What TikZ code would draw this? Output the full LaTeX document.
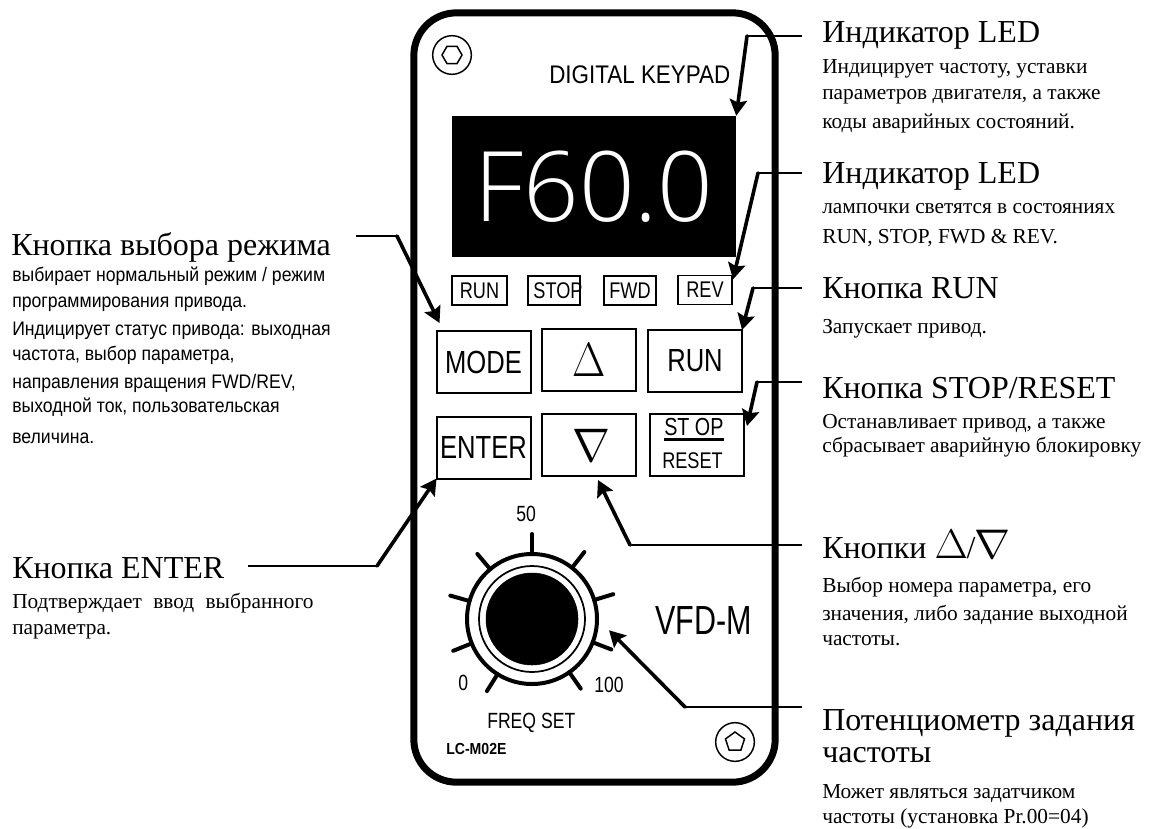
\documentclass[tikz,border=0pt]{standalone}
\usepackage{fontspec}
\setmainfont{Liberation Serif}
\setsansfont{Liberation Sans}
\newfontfamily\panelfont[FakeStretch=0.88]{Liberation Sans}
\newfontfamily\keyfont[FakeStretch=0.8]{Liberation Sans}
\newfontfamily\modelfont[FakeStretch=0.75]{Liberation Sans}
\newfontfamily\notefont[FakeStretch=0.9]{Liberation Sans}
\newfontfamily\displayfont{Open Sans Light}
\usetikzlibrary{arrows.meta,shapes.geometric,positioning}

\begin{document}
\begin{tikzpicture}
        [
            x=0.75pt, y=-0.75pt,
            titletext/.style={anchor=base west, inner sep=0pt, font=\fontsize{24}{26}\selectfont},
            notetext/.style={anchor=base west, inner sep=0pt, align=left, font=\fontsize{16}{19.5}\selectfont},
            leftnote/.style={anchor=base west, inner sep=0pt, align=left, font=\notefont\fontsize{14.7}{19}\selectfont},
            paneltext/.style={anchor=base west, inner sep=0pt, font=\keyfont\fontsize{#1}{#1}\selectfont},
            keybox/.style={draw, line width=1.5pt, inner sep=0pt, outer sep=0pt, minimum width=70.5pt, minimum height=46.5pt, font=\keyfont\fontsize{24}{24}\selectfont},
            ledbox/.style={draw, line width=1.2pt, inner sep=0pt, outer sep=0pt, minimum height=22pt, font=\keyfont\fontsize{17}{17}\selectfont},
            screw/.style={circle, draw, line width=1.1pt, inner sep=0pt, minimum size=29pt},
            bolt/.style={regular polygon, regular polygon sides=#1, draw, line width=1.1pt, inner sep=0pt, minimum size=15pt},
            ring/.style={circle, draw, inner sep=0pt, outer sep=0pt},
            dialtick/.style={line width=3pt, line cap=round},
            lead/.style={line width=1.5pt},
            leadarrow/.style={line width=2.7pt, line cap=round, -{Stealth[length=12pt,width=13pt,inset=2pt]}},
        ]
            \useasboundingbox (0,0) rectangle (1151,828);

            % panel
            \node[draw, line width=5.25pt, rounded corners=32pt, inner sep=0pt, minimum width=271pt, minimum height=577pt] (panel) at (594.5,397.5) {};
            \node[screw] (screwa) at (452,55) {};
            \node[bolt=6] (bolta) at (452,55) {};
            \node[screw] (screwb) at (735,742) {};
            \node[bolt=5] (boltb) at (735,742) {};
            \node[anchor=base west, inner sep=0pt, font=\panelfont\fontsize{19.1}{20}\selectfont] (keypad) at (549,83) {DIGITAL KEYPAD};

            \node[fill=black, text=white, inner sep=0pt, minimum width=213pt, minimum height=105.75pt, font=\displayfont\fontsize{73}{73}\selectfont] (display) at (594,186.5) {F60.0};

            \node[ledbox, minimum width=41pt] (ledrun) at (479.5,290.5) {RUN};
            \node[ledbox, minimum width=39pt] (ledstop) at (554,290.5) {\makebox[0pt]{\hspace{6pt}STOP}};
            \node[ledbox, minimum width=39pt] (ledfwd) at (630,290.5) {FWD};
            \node[ledbox, minimum width=40.5pt] (ledrev) at (705,290) {REV};

            \node[keybox] (keymode) at (483.5,362) {MODE\hspace{5pt}};
            \node[keybox] (keyup) at (589,360) {\scalebox{1.3}[1.45]{$\Delta$}};
            \node[keybox] (keyrun) at (695,361) {RUN\hspace{6pt}};
            \node[keybox] (keyenter) at (483.5,447.5) {ENTER};
            \node[keybox] (keydown) at (589,445) {\hspace{4pt}\scalebox{1.37}[1.42]{$\nabla$}};
            \node[keybox] (keystop) at (697,445) {};
            \node[paneltext=18.5] (stoptop) at (664,435) {ST OP};
            \node[paneltext=17] (stopbot) at (662,468) {RESET};
            \draw[line width=2pt] ([yshift=-3pt]stoptop.south west) -- ([yshift=-3pt]stoptop.south east);

            % dial
            \node[ring, line width=3pt, minimum size=97.5pt] (knob) at (532,619) {};
            \node[ring, line width=1.3pt, minimum size=79.5pt] (knobring) at (532,619) {};
            \node[ring, fill=black, minimum size=69pt] (knobcap) at (532,619) {};
            \foreach \a in {238,202,164,130,90,52,17,-21,-55}
                \draw[dialtick] (knob.\a) -- ++(-\a:20);
            \node[paneltext=16.5] (dialmid) at (516,521) {50};
            \node[paneltext=16.5] (dialmin) at (458,690) {0};
            \node[paneltext=16.5] (dialmax) at (594,692) {100};
            \node[paneltext=16.5] (freqset) at (487,728) {FREQ SET};
            \node[anchor=base west, inner sep=0pt, font=\modelfont\fontsize{30.5}{31}\selectfont] (model) at (655,634) {VFD-M};
            \node[anchor=base west, inner sep=0pt, font=\panelfont\bfseries\fontsize{12}{12}\selectfont] (modelcode) at (446,754) {LC-M02E};

            % right column
            \node[titletext] (titleled) at (822,42) {Индикатор LED};
            \node[notetext] (noteled) at (822,128) {Индицирует частоту, уставки\\параметров двигателя, а также\\[2pt]коды аварийных состояний.};
            \node[titletext] (titlelamp) at (822,183) {Индикатор LED};
            \node[notetext] (notelamp) at (822,243) {лампочки светятся в состояниях\\[3pt]RUN, STOP, FWD \& REV.};
            \node[titletext] (titlerun) at (822,298) {Кнопка RUN};
            \node[notetext] (noterun) at (822,333) {Запускает привод.};
            \node[titletext] (titlestop) at (822,398) {Кнопка STOP/RESET};
            \node[notetext] (notestop) at (822,452) {Останавливает привод, а также\\[-1.5pt]сбрасывает аварийную блокировку};
            \node[titletext] (titlearrows) at (822,558) {Кнопки \scalebox{1.3}[1.25]{$\Delta$}\kern-1pt/\kern-1pt\scalebox{1.3}[1.25]{$\nabla$}};
            \node[notetext] (notearrows) at (822,645) {Выбор номера параметра,  его\\[1.5pt]значения, либо задание выходной\\[-.75pt]частоты.};
            \node[titletext] (titlepot) at (822,730) {Потенциометр задания};
            \node[titletext] (titlepotb) at (822,762) {частоты};
            \node[notetext] (notepot) at (822,823) {Может являться задатчиком\\[-.75pt]частоты (установка Pr.00=04)};

            % left column
            \node[titletext] (titlemode) at (11,255) {Кнопка выбора режима};
            \node[leftnote] (notemode) at (12,443) {выбирает нормальный режим / режим\\программирования привода.\\[2pt]Индицирует статус привода:  выходная\\частота, выбор параметра,\\[2pt]направления вращения FWD/REV,\\[-1pt]выходной ток, пользовательская\\[4pt]величина.};
            \node[titletext] (titleenter) at (12,578) {Кнопка ENTER};
            \node[notetext] (noteenter) at (12,634) {Подтверждает\hspace{8.6pt}ввод\hspace{8.6pt}выбранного\\параметра.};

            % leads
            \coordinate (bendled) at (747,36);
            \coordinate (bendlamp) at (758,173);
            \coordinate (bendrun) at (753,288);
            \coordinate (bendstop) at (757,382);
            \coordinate (bendarrows) at (630,545);
            \coordinate (bendpot) at (685,707);
            \coordinate (bendmode) at (397,236);
            \coordinate (bendenter) at (377,566);

            \draw[lead] ([xshift=-15pt]titleled.west |- bendled) -- (bendled);
            \draw[leadarrow] (bendled) -- (display.north east);
            \draw[lead] ([xshift=-15pt]titlelamp.west |- bendlamp) -- (bendlamp);
            \draw[leadarrow] (bendlamp) -- ([shift={(1,4)}]ledrev.north east);
            \draw[lead] ([xshift=-15pt]titlerun.west |- bendrun) -- (bendrun);
            \draw[leadarrow] (bendrun) -- (keyrun.north east);
            \draw[lead] ([xshift=-15pt]titlestop.west |- bendstop) -- (bendstop);
            \draw[leadarrow] (bendstop) -- ([shift={(3,12)}]keystop.north east);
            \draw[lead] ([xshift=-15pt]titlearrows.west |- bendarrows) -- (bendarrows);
            \draw[leadarrow] (bendarrows) -- ([shift={(9,4)}]keydown.south);
            \draw[lead] ([xshift=-15pt]titlepot.west |- bendpot) -- (bendpot);
            \draw[leadarrow] (bendpot) -- ([shift={(13,0)}]knob.-10);
            \draw[lead] ([xshift=19pt]titlemode.east |- bendmode) -- (bendmode);
            \draw[leadarrow] (bendmode) -- ([shift={(3,-8)}]keymode.north west);
            \draw[lead] ([xshift=18pt]titleenter.east |- bendenter) -- (bendenter);
            \draw[leadarrow] (bendenter) -- (keyenter.south west);
        \end{tikzpicture}
\end{document}
